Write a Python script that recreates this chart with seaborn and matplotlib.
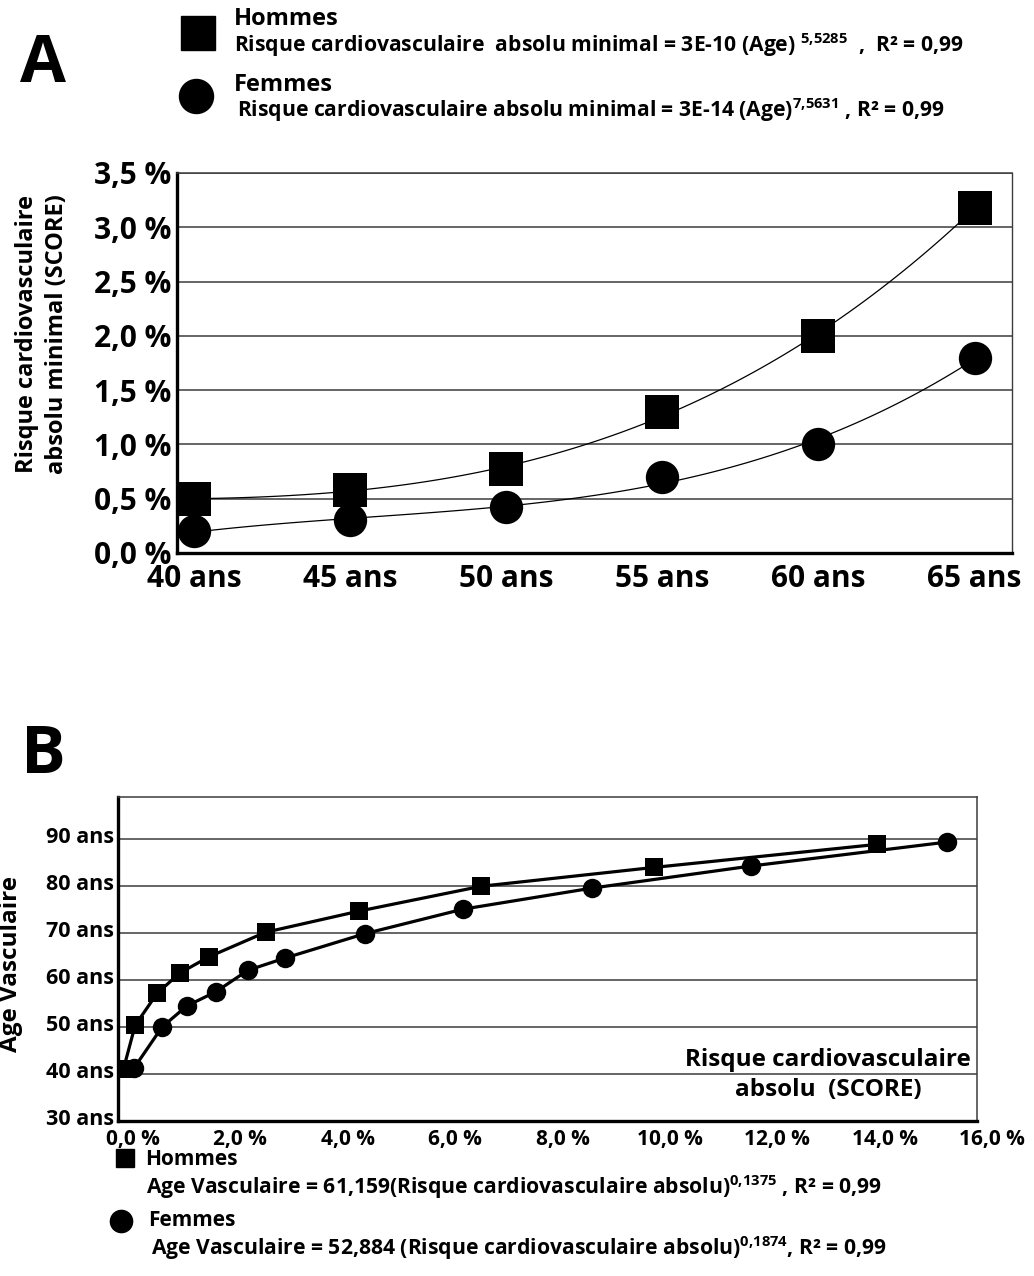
import matplotlib
matplotlib.use("Agg")
import matplotlib.pyplot as plt
from matplotlib.lines import Line2D
from matplotlib.transforms import ScaledTranslation
import seaborn as sns
import pandas as pd

# ---------------- Panel A data ----------------
ages_a = [40, 45, 50, 55, 60, 65]
age_labels_a = ["40 ans", "45 ans", "50 ans", "55 ans", "60 ans", "65 ans"]
risque_min_hommes = [0.50, 0.58, 0.77, 1.30, 2.00, 3.18]
risque_min_femmes = [0.20, 0.30, 0.42, 0.70, 1.00, 1.80]
yticks_a = [0.0, 0.5, 1.0, 1.5, 2.0, 2.5, 3.0, 3.5]
ytick_labels_a = ["0,0 %", "0,5 %", "1,0 %", "1,5 %", "2,0 %", "2,5 %", "3,0 %", "3,5 %"]

# ---------------- Panel B data ----------------
risque_hommes_b = [0.10, 0.32, 0.73, 1.15, 1.70, 2.75, 4.49, 6.77, 9.98, 14.13]
age_vasc_hommes = [41.0, 50.4, 57.2, 61.5, 65.0, 70.2, 74.7, 80.0, 84.0, 88.9]
risque_femmes_b = [0.30, 0.82, 1.28, 1.82, 2.42, 3.11, 4.60, 6.42, 8.83, 11.79, 15.44]
age_vasc_femmes = [41.3, 50.0, 54.5, 57.5, 62.1, 64.7, 69.9, 75.1, 79.6, 84.3, 89.4]
xticks_b = [0, 2, 4, 6, 8, 10, 12, 14, 16]
xtick_labels_b = ["0,0 %", "2,0 %", "4,0 %", "6,0 %", "8,0 %", "10,0 %", "12,0 %", "14,0 %", "16,0 %"]
yticks_b = [30, 40, 50, 60, 70, 80, 90]
ytick_labels_b = ["30 ans", "40 ans", "50 ans", "60 ans", "70 ans", "80 ans", "90 ans"]

sns.set_theme(style="white")
FONT = "Open Sans"
plt.rcParams["font.family"] = [FONT, "DejaVu Sans"]
plt.rcParams["font.weight"] = "bold"
plt.rcParams["mathtext.fontset"] = "custom"
plt.rcParams["mathtext.rm"] = FONT + ":bold"
plt.rcParams["mathtext.it"] = FONT + ":bold"
plt.rcParams["mathtext.bf"] = FONT + ":bold"
plt.rcParams["text.color"] = "black"
plt.rcParams["xtick.color"] = "black"
plt.rcParams["ytick.color"] = "black"

W, H = 1034, 1276
fig = plt.figure(figsize=(W / 100, H / 100), dpi=100)


def fx(px):
    return px / W


def fy(py):
    return 1 - py / H


GRID = "#3c3c3c"

# ================= Panel A =================
axA = fig.add_axes([fx(177), fy(553), fx(1012) - fx(177), fy(173) - fy(553)])
dfA_h = pd.DataFrame({"age": ages_a, "risque": risque_min_hommes})
dfA_f = pd.DataFrame({"age": ages_a, "risque": risque_min_femmes})
for d in (dfA_h, dfA_f):
    sns.regplot(data=d, x="age", y="risque", order=3, ci=None, scatter=False,
                color="black", line_kws={"lw": 0.9}, ax=axA)
sns.scatterplot(data=dfA_h, x="age", y="risque", marker="s", s=24.5 ** 2,
                color="black", linewidth=0, ax=axA, zorder=3)
sns.scatterplot(data=dfA_f, x="age", y="risque", marker="o", s=24.0 ** 2,
                color="black", linewidth=0, ax=axA, zorder=3)
axA.set_xlim(39.45, 66.2)
axA.set_ylim(0, 3.5)
axA.set_xticks(ages_a)
axA.set_xticklabels(age_labels_a, fontsize=21.5, fontweight="bold")
axA.set_yticks(yticks_a)
axA.set_yticklabels(ytick_labels_a, fontsize=21.5, fontweight="bold")
axA.tick_params(axis="x", length=0, pad=8)
axA.tick_params(axis="y", length=0, pad=4)
axA.set_xlabel("")
axA.set_ylabel("")
axA.grid(axis="y", color=GRID, lw=1.1)
axA.grid(axis="x", visible=False)
axA.set_axisbelow(True)
for side, lw in (("left", 2.4), ("bottom", 2.4), ("right", 1.0), ("top", 1.1)):
    axA.spines[side].set_visible(True)
    axA.spines[side].set_color("black" if side in ("left", "bottom") else GRID)
    axA.spines[side].set_linewidth(lw)

fig.text(fx(42), fy(334), "Risque cardiovasculaire\nabsolu minimal (SCORE)",
         rotation=90, ha="center", va="center", fontsize=17,
         fontweight="bold", linespacing=1.3, multialignment="center")

# Panel A legend
fig.text(fx(43), fy(82), "A", fontsize=48, fontweight="bold", ha="center", va="baseline")
fig.add_artist(Line2D([fx(197.5)], [fy(33)], marker="s", markersize=25, color="black",
                      linestyle="none", transform=fig.transFigure))
fig.add_artist(Line2D([fx(196)], [fy(96)], marker="o", markersize=24.5, color="black",
                      linestyle="none", transform=fig.transFigure))
fig.text(fx(234), fy(25), "Hommes", fontsize=17, fontweight="bold", va="baseline")
fig.text(fx(234), fy(52),
         r"Risque cardiovasculaire  absolu minimal = 3E-10 (Age) $^{5{,}5285}$  ,  R² = 0,99",
         fontsize=15.2, fontweight="bold", va="baseline")
fig.text(fx(234), fy(91), "Femmes", fontsize=17, fontweight="bold", va="baseline")
fig.text(fx(237), fy(117),
         r"Risque cardiovasculaire absolu minimal = 3E-14 (Age)$^{7{,}5631}$ , R² = 0,99",
         fontsize=15.2, fontweight="bold", va="baseline")

# ================= Panel B =================
axB = fig.add_axes([fx(118), fy(1121), fx(977) - fx(118), fy(797) - fy(1121)])
dfB_h = pd.DataFrame({"risque": risque_hommes_b, "age": age_vasc_hommes})
dfB_f = pd.DataFrame({"risque": risque_femmes_b, "age": age_vasc_femmes})
sns.lineplot(data=dfB_h, x="risque", y="age", color="black", lw=2.3, sort=True, ax=axB)
sns.lineplot(data=dfB_f, x="risque", y="age", color="black", lw=2.3, sort=True, ax=axB)
sns.scatterplot(data=dfB_h, x="risque", y="age", marker="s", s=12.5 ** 2,
                color="black", linewidth=0, ax=axB, zorder=3)
sns.scatterplot(data=dfB_f, x="risque", y="age", marker="o", s=14.0 ** 2,
                color="black", linewidth=0, ax=axB, zorder=3)
axB.set_xlim(0, 16)
axB.set_ylim(30, 99)
axB.set_xticks(xticks_b)
axB.set_xticklabels(xtick_labels_b, fontsize=15, fontweight="bold")
axB.set_yticks(yticks_b)
axB.set_yticklabels(ytick_labels_b, fontsize=15.5, fontweight="bold")
axB.tick_params(axis="x", length=0, pad=6)
axB.tick_params(axis="y", length=0, pad=3)
axB.set_xlabel("")
axB.set_ylabel("")
axB.grid(axis="y", color=GRID, lw=1.1)
axB.grid(axis="x", visible=False)
axB.set_axisbelow(True)
for side, lw in (("left", 2.4), ("bottom", 2.4), ("right", 1.1), ("top", 1.1)):
    axB.spines[side].set_visible(True)
    axB.spines[side].set_color("black" if side in ("left", "bottom") else GRID)
    axB.spines[side].set_linewidth(lw)
shift = ScaledTranslation(0.15, 0, fig.dpi_scale_trans)
for lab in axB.get_xticklabels():
    lab.set_transform(lab.get_transform() + shift)
shift_y = ScaledTranslation(0, 0.04, fig.dpi_scale_trans)
for lab in axB.get_yticklabels():
    lab.set_transform(lab.get_transform() + shift_y)

fig.text(fx(828), fy(1075), "Risque cardiovasculaire\nabsolu  (SCORE)", ha="center",
         va="center", fontsize=17.5, fontweight="bold", linespacing=1.35,
         multialignment="center")
fig.text(fx(11), fy(964), "Age Vasculaire", rotation=90, ha="center", va="center",
         fontsize=17.5, fontweight="bold")
fig.text(fx(43), fy(773), "B", fontsize=48, fontweight="bold", ha="center", va="baseline")

# Panel B legend
fig.add_artist(Line2D([fx(124.5)], [fy(1158)], marker="s", markersize=12.3, color="black",
                      linestyle="none", transform=fig.transFigure))
fig.add_artist(Line2D([fx(121)], [fy(1221)], marker="o", markersize=16, color="black",
                      linestyle="none", transform=fig.transFigure))
fig.text(fx(145), fy(1165), "Hommes", fontsize=15, fontweight="bold", va="baseline")
fig.text(fx(146), fy(1194),
         r"Age Vasculaire = 61,159(Risque cardiovasculaire absolu)$^{0{,}1375}$ , R² = 0,99",
         fontsize=15.2, fontweight="bold", va="baseline")
fig.text(fx(148), fy(1226), "Femmes", fontsize=15, fontweight="bold", va="baseline")
fig.text(fx(151), fy(1255),
         r"Age Vasculaire = 52,884 (Risque cardiovasculaire absolu)$^{0{,}1874}$, R² = 0,99",
         fontsize=15.2, fontweight="bold", va="baseline")

fig.savefig("out.png", dpi=100, facecolor="white")
